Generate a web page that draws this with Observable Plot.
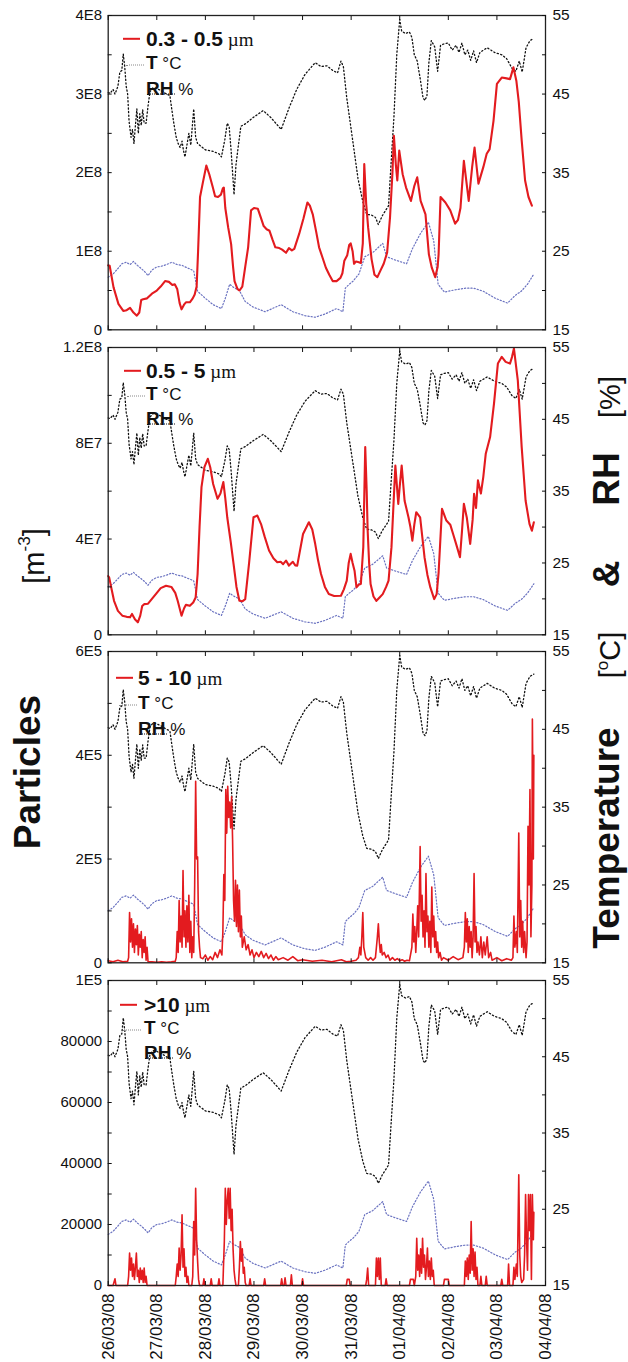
<!DOCTYPE html>
<html><head><meta charset="utf-8">
<script src="https://cdn.jsdelivr.net/npm/d3@7"></script>
<script src="https://cdn.jsdelivr.net/npm/@observablehq/plot@0.6"></script>
<style>
html,body{margin:0;padding:0;background:#fff;}
#chart{position:relative;width:628px;height:1362px;overflow:hidden;font-family:"Liberation Sans",Arial,sans-serif;color:#111;}
#chart svg{display:block;}
.abs{position:absolute;white-space:nowrap;line-height:1;}
.rot{position:absolute;white-space:nowrap;line-height:1;transform:translate(-50%,-50%) rotate(-90deg);}
</style></head><body><div id="chart"></div>
<script>
// ---------- data ----------
const dateLabels = ["26/03/08","27/03/08","28/03/08","29/03/08","30/03/08","31/03/08","01/04/08","02/04/08","03/04/08","04/04/08"];
const dayTicks = [0,1,2,3,4,5,6,7,8,9];
const rightTicks = [15,25,35,45,55];
const rightMinor = [15,20,25,30,35,40,45,50,55];

// upper dotted curve (RH %), [day since 26/03/08, value]
const rh = [[0.0,45.2],[0.04,45.1],[0.1,45.6],[0.14,45.0],[0.2,46.0],[0.24,47.8],[0.28,48.0],[0.31,50.1],[0.34,48.5],[0.37,46.0],[0.4,45.0],[0.43,41.5],[0.47,39.5],[0.5,40.5],[0.53,38.7],[0.56,41.0],[0.59,43.1],[0.62,40.0],[0.65,42.5],[0.68,41.0],[0.71,43.0],[0.74,41.3],[0.78,41.3],[0.82,43.5],[0.86,45.3],[0.92,45.8],[1.0,45.7],[1.1,45.4],[1.2,45.0],[1.27,44.8],[1.31,43.0],[1.35,41.3],[1.4,39.5],[1.44,38.7],[1.48,38.2],[1.52,39.0],[1.55,37.8],[1.58,37.0],[1.62,38.5],[1.66,40.0],[1.7,38.5],[1.76,43.1],[1.8,39.5],[1.84,38.7],[2.0,37.9],[2.16,37.7],[2.28,37.4],[2.33,37.0],[2.4,39.2],[2.45,41.3],[2.49,40.8],[2.53,37.8],[2.59,32.2],[2.63,36.0],[2.68,38.5],[2.73,40.9],[2.82,41.2],[2.98,42.0],[3.19,42.9],[3.35,42.0],[3.56,40.5],[3.72,43.2],[3.88,45.6],[4.05,47.5],[4.26,49.0],[4.38,48.5],[4.5,48.6],[4.62,48.0],[4.72,47.7],[4.79,49.2],[4.84,48.5],[4.91,44.5],[5.03,39.2],[5.14,34.3],[5.24,31.3],[5.32,29.7],[5.42,29.6],[5.5,29.3],[5.56,28.4],[5.64,29.5],[5.77,30.8],[5.82,36.0],[5.88,42.0],[5.94,50.1],[6.0,54.5],[6.04,53.0],[6.12,52.7],[6.2,52.9],[6.25,52.2],[6.3,50.0],[6.36,49.2],[6.42,47.0],[6.48,44.5],[6.52,44.2],[6.56,44.8],[6.6,49.0],[6.65,51.8],[6.72,51.0],[6.78,47.9],[6.84,51.2],[6.92,51.4],[7.0,51.5],[7.08,50.6],[7.16,51.2],[7.22,50.3],[7.28,51.5],[7.34,50.0],[7.4,50.6],[7.46,49.3],[7.52,50.5],[7.58,49.0],[7.65,50.3],[7.8,50.9],[7.95,50.3],[8.1,50.0],[8.2,49.5],[8.31,48.3],[8.39,47.9],[8.46,49.2],[8.52,47.8],[8.6,50.9],[8.68,51.8],[8.76,52.1]];

// lower dotted curve (T °C)
const temp = [[0.0,21.7],[0.1,22.1],[0.2,22.8],[0.28,23.4],[0.37,23.6],[0.45,23.3],[0.52,23.7],[0.6,23.2],[0.68,22.8],[0.75,22.4],[0.82,21.9],[0.9,22.6],[1.0,23.0],[1.1,23.1],[1.2,23.3],[1.31,23.6],[1.42,23.3],[1.52,23.2],[1.62,22.9],[1.7,22.7],[1.76,22.5],[1.84,19.9],[2.0,19.0],[2.16,18.2],[2.33,17.7],[2.41,19.0],[2.5,20.8],[2.58,20.4],[2.7,20.0],[2.82,18.6],[2.98,17.9],[3.23,17.3],[3.56,18.2],[3.8,17.3],[4.05,16.8],[4.26,16.6],[4.46,17.0],[4.7,17.7],[4.83,17.3],[4.88,20.3],[4.96,20.8],[5.04,21.2],[5.16,22.1],[5.28,24.3],[5.44,24.8],[5.65,26.0],[5.73,24.3],[5.9,23.9],[6.14,23.4],[6.26,25.3],[6.43,27.3],[6.59,28.7],[6.7,26.3],[6.79,20.8],[6.92,19.8],[7.15,20.1],[7.36,20.3],[7.52,20.3],[7.72,19.9],[7.97,19.0],[8.22,18.4],[8.38,19.4],[8.5,19.9],[8.63,20.8],[8.76,22.1]];

// 0.3 - 0.5 um, units 1E8 m-3
const pm03 = [[0.0,0.82],[0.03,0.815],[0.11,0.54],[0.21,0.33],[0.31,0.24],[0.38,0.25],[0.45,0.28],[0.52,0.22],[0.59,0.18],[0.64,0.22],[0.68,0.38],[0.72,0.39],[0.8,0.40],[0.9,0.46],[1.0,0.50],[1.08,0.55],[1.17,0.62],[1.25,0.61],[1.32,0.57],[1.37,0.58],[1.42,0.52],[1.47,0.34],[1.51,0.26],[1.56,0.32],[1.6,0.35],[1.68,0.35],[1.74,0.40],[1.78,0.45],[1.82,0.55],[1.85,1.0],[1.89,1.69],[1.95,1.88],[2.02,2.09],[2.08,1.98],[2.15,1.82],[2.2,1.70],[2.26,1.69],[2.32,1.72],[2.36,1.80],[2.38,1.81],[2.41,1.55],[2.47,1.30],[2.53,1.09],[2.57,0.80],[2.6,0.62],[2.66,0.52],[2.7,0.50],[2.76,0.55],[2.82,0.80],[2.88,1.05],[2.94,1.52],[3.0,1.55],[3.08,1.54],[3.14,1.43],[3.2,1.32],[3.26,1.28],[3.32,1.26],[3.38,1.15],[3.44,1.05],[3.52,1.04],[3.58,1.02],[3.66,0.98],[3.72,1.04],[3.78,1.01],[3.83,1.03],[3.93,1.22],[4.02,1.42],[4.1,1.62],[4.15,1.58],[4.21,1.47],[4.28,1.25],[4.34,1.05],[4.41,0.92],[4.48,0.79],[4.55,0.70],[4.62,0.62],[4.7,0.62],[4.78,0.66],[4.82,0.72],[4.86,0.88],[4.92,0.95],[4.96,1.08],[4.99,1.10],[5.03,1.0],[5.06,0.84],[5.1,0.87],[5.16,0.86],[5.2,0.85],[5.24,1.1],[5.27,2.11],[5.31,1.6],[5.35,1.30],[5.42,0.9],[5.48,0.70],[5.54,0.67],[5.6,0.75],[5.67,0.84],[5.74,0.98],[5.8,1.43],[5.85,2.0],[5.88,2.47],[5.92,2.1],[5.95,1.90],[5.99,2.28],[6.06,1.98],[6.13,1.81],[6.23,1.64],[6.3,1.83],[6.36,1.94],[6.43,1.64],[6.53,1.47],[6.6,0.96],[6.66,0.79],[6.73,0.67],[6.78,0.80],[6.8,0.96],[6.84,1.69],[6.94,1.62],[7.04,1.52],[7.14,1.35],[7.2,1.40],[7.25,1.55],[7.32,2.15],[7.42,1.64],[7.49,2.07],[7.54,2.32],[7.62,1.86],[7.72,2.07],[7.79,2.24],[7.85,2.30],[7.93,2.66],[8.0,3.13],[8.1,3.21],[8.2,3.20],[8.27,3.19],[8.34,3.34],[8.4,3.17],[8.45,2.9],[8.51,2.41],[8.58,1.90],[8.65,1.69],[8.72,1.58]];

// 0.5 - 5 um, units 1E7 m-3
const pm05 = [[0.0,2.45],[0.02,2.40],[0.07,1.9],[0.12,1.42],[0.2,1.0],[0.29,0.80],[0.38,0.75],[0.45,0.73],[0.49,0.87],[0.55,0.65],[0.61,0.52],[0.66,0.8],[0.7,1.2],[0.74,1.28],[0.82,1.30],[0.9,1.5],[0.98,1.70],[1.08,1.95],[1.19,2.05],[1.3,2.0],[1.38,1.75],[1.43,1.42],[1.51,0.80],[1.56,1.1],[1.6,1.25],[1.68,1.21],[1.75,1.35],[1.8,1.56],[1.84,2.54],[1.88,4.5],[1.92,6.17],[1.98,7.0],[2.05,7.35],[2.1,7.0],[2.16,6.3],[2.25,5.68],[2.31,5.9],[2.37,6.38],[2.41,5.7],[2.45,4.91],[2.52,3.9],[2.58,2.96],[2.64,2.0],[2.7,1.42],[2.76,1.40],[2.82,1.49],[2.9,3.0],[2.99,4.91],[3.07,4.98],[3.15,4.6],[3.22,4.1],[3.31,3.52],[3.4,3.2],[3.48,3.03],[3.55,3.05],[3.6,2.95],[3.66,3.1],[3.72,2.89],[3.8,3.05],[3.85,2.9],[3.89,2.89],[4.01,4.21],[4.13,4.70],[4.2,4.4],[4.26,3.80],[4.32,3.1],[4.38,2.54],[4.46,2.0],[4.54,1.70],[4.65,1.62],[4.79,1.63],[4.85,1.9],[4.91,2.26],[4.95,3.0],[4.99,3.38],[5.03,3.0],[5.07,2.68],[5.11,1.98],[5.16,2.1],[5.2,2.12],[5.25,3.66],[5.29,7.84],[5.32,6.0],[5.34,4.35],[5.37,3.0],[5.4,2.12],[5.46,1.6],[5.52,1.42],[5.58,1.55],[5.65,1.70],[5.72,2.0],[5.77,2.26],[5.83,3.66],[5.88,5.8],[5.91,7.07],[5.97,5.47],[6.0,6.2],[6.04,7.07],[6.1,5.6],[6.18,4.91],[6.22,4.5],[6.26,3.93],[6.3,4.6],[6.34,5.12],[6.42,4.9],[6.51,3.24],[6.57,2.5],[6.63,1.98],[6.71,1.49],[6.76,1.7],[6.8,2.6],[6.87,5.26],[6.96,4.77],[7.04,4.6],[7.1,4.2],[7.16,3.80],[7.24,3.24],[7.28,4.3],[7.32,5.47],[7.38,4.9],[7.45,3.80],[7.5,4.8],[7.53,5.89],[7.57,5.3],[7.61,6.45],[7.67,5.9],[7.72,6.6],[7.77,7.56],[7.86,8.26],[7.94,9.66],[8.02,11.33],[8.1,11.61],[8.18,11.40],[8.27,11.33],[8.31,11.6],[8.35,11.96],[8.43,10.63],[8.51,7.84],[8.59,5.61],[8.67,4.63],[8.72,4.35],[8.76,4.70]];

// 5 - 10 um, units 1E5 m-3
const pm5 = [[0,0.04],[0.1,0.02],[0.2,0.05],[0.3,0.02],[0.4,0.03],[0.42,0.1],[0.44,0.97],[0.46,0.4],[0.48,0.85],[0.5,0.3],[0.52,0.75],[0.54,0.2],[0.56,0.65],[0.58,0.35],[0.6,0.72],[0.62,0.15],[0.64,0.55],[0.66,0.3],[0.68,0.6],[0.7,0.1],[0.72,0.45],[0.74,0.2],[0.76,0.5],[0.78,0.05],[0.8,0.3],[0.82,0.02],[0.9,0.02],[1.0,0.01],[1.1,0.02],[1.2,0.01],[1.3,0.02],[1.38,0.03],[1.4,0.1],[1.42,0.6],[1.44,0.2],[1.46,1.2],[1.48,0.4],[1.5,0.9],[1.52,0.3],[1.54,1.78],[1.56,0.5],[1.58,1.0],[1.6,0.3],[1.62,1.1],[1.64,0.4],[1.66,1.3],[1.68,0.2],[1.7,0.8],[1.72,0.1],[1.74,0.5],[1.76,0.2],[1.78,1.5],[1.8,3.5],[1.82,2.0],[1.84,2.04],[1.86,0.6],[1.88,0.3],[1.9,0.1],[1.95,0.08],[2.0,0.15],[2.05,0.05],[2.1,0.12],[2.15,0.06],[2.2,0.2],[2.25,0.1],[2.3,0.25],[2.34,0.15],[2.36,0.6],[2.38,1.7],[2.4,1.2],[2.42,3.34],[2.44,2.5],[2.46,3.4],[2.48,2.8],[2.5,3.1],[2.52,2.6],[2.54,3.2],[2.56,2.37],[2.58,1.2],[2.6,0.8],[2.62,1.59],[2.64,0.7],[2.66,1.5],[2.68,0.6],[2.7,1.4],[2.72,0.5],[2.74,0.9],[2.76,0.3],[2.8,0.5],[2.84,0.25],[2.88,0.35],[2.92,0.15],[2.96,0.25],[3.0,0.1],[3.05,0.2],[3.1,0.12],[3.15,0.22],[3.2,0.1],[3.25,0.18],[3.3,0.08],[3.35,0.15],[3.4,0.05],[3.45,0.12],[3.5,0.06],[3.6,0.1],[3.7,0.05],[3.8,0.12],[3.9,0.04],[4.0,0.06],[4.2,0.03],[4.4,0.05],[4.6,0.02],[4.8,0.06],[4.9,0.02],[5.0,0.03],[5.1,0.05],[5.15,0.1],[5.18,0.3],[5.2,0.15],[5.22,0.5],[5.24,0.97],[5.26,0.3],[5.28,0.2],[5.3,0.1],[5.35,0.05],[5.4,0.1],[5.45,0.05],[5.5,0.1],[5.52,0.3],[5.54,0.5],[5.56,0.75],[5.58,0.4],[5.6,0.2],[5.62,0.35],[5.64,0.15],[5.68,0.2],[5.72,0.1],[5.76,0.15],[5.8,0.05],[5.85,0.1],[5.9,0.05],[5.95,0.08],[6.0,0.04],[6.05,0.06],[6.1,0.03],[6.15,0.05],[6.2,0.04],[6.25,0.3],[6.27,0.94],[6.29,0.4],[6.31,0.7],[6.33,0.2],[6.35,0.6],[6.37,1.1],[6.39,0.5],[6.42,2.24],[6.44,0.8],[6.46,1.3],[6.48,0.5],[6.5,1.0],[6.52,0.3],[6.54,1.72],[6.56,0.6],[6.58,0.9],[6.6,0.3],[6.62,0.8],[6.64,0.2],[6.66,1.46],[6.68,0.5],[6.7,0.9],[6.72,0.3],[6.74,0.6],[6.76,0.2],[6.78,0.4],[6.8,0.1],[6.83,0.2],[6.86,0.05],[6.9,0.1],[7.0,0.05],[7.1,0.12],[7.2,0.06],[7.3,0.1],[7.33,0.3],[7.35,0.97],[7.37,0.4],[7.39,0.85],[7.41,0.2],[7.43,0.7],[7.45,0.3],[7.47,0.6],[7.49,0.1],[7.51,0.5],[7.53,1.72],[7.55,0.4],[7.57,0.7],[7.59,0.2],[7.61,0.4],[7.64,0.15],[7.67,0.5],[7.7,0.1],[7.73,0.4],[7.76,0.15],[7.8,0.5],[7.83,0.1],[7.87,0.2],[7.9,0.05],[8.0,0.1],[8.1,0.04],[8.2,0.08],[8.3,0.05],[8.33,0.1],[8.35,0.9],[8.37,0.3],[8.4,0.6],[8.42,0.2],[8.45,2.5],[8.47,0.5],[8.49,1.2],[8.51,0.3],[8.53,0.8],[8.55,0.2],[8.57,0.6],[8.6,0.1],[8.62,0.4],[8.64,2.63],[8.66,1.5],[8.68,3.34],[8.7,0.5],[8.72,1.5],[8.73,4.7],[8.74,3.5],[8.75,2.0],[8.76,4.0]];

// > 10 um, units 1E4 m-3
const pm10 = [[0,0],[0.1,0],[0.14,0.22],[0.16,0],[0.4,0],[0.42,0.3],[0.44,1.06],[0.46,0.5],[0.48,0.9],[0.5,0.3],[0.52,0.7],[0.54,0.2],[0.56,0.6],[0.58,1.06],[0.6,0.3],[0.62,0.5],[0.64,0.1],[0.66,0.57],[0.68,0.2],[0.7,0.5],[0.72,0.1],[0.74,0.57],[0.76,0.1],[0.78,0.3],[0.8,0],[1.38,0],[1.4,0.3],[1.42,0.7],[1.44,0.3],[1.46,1.23],[1.48,0.5],[1.5,1.0],[1.52,2.32],[1.54,0.6],[1.56,1.2],[1.58,0.3],[1.6,0.6],[1.62,0.1],[1.64,0.3],[1.66,0],[1.72,0],[1.74,0.3],[1.76,2.1],[1.78,1.0],[1.8,3.19],[1.82,1.5],[1.84,0.8],[1.86,0.2],[1.88,0],[1.95,0],[1.97,0.22],[1.99,0],[2.1,0],[2.12,0.22],[2.14,0],[2.26,0],[2.28,0.22],[2.3,0],[2.36,0],[2.37,0.5],[2.39,1.44],[2.41,3.19],[2.43,2.0],[2.45,2.8],[2.47,3.19],[2.49,2.2],[2.51,3.19],[2.53,1.8],[2.55,2.5],[2.57,1.2],[2.59,0.5],[2.61,0.2],[2.63,0],[2.68,0],[2.7,0.6],[2.72,1.44],[2.74,0.8],[2.76,1.2],[2.78,0.4],[2.8,0.6],[2.82,0.1],[2.84,0],[2.9,0],[2.92,0.22],[2.94,0],[3.2,0],[3.22,0.22],[3.24,0],[3.55,0],[3.57,0.22],[3.59,0],[3.62,0],[3.64,0.25],[3.66,0],[3.75,0],[3.77,0.35],[3.79,0],[3.98,0],[4.0,0.22],[4.02,0],[4.9,0],[4.92,0.2],[4.96,0.2],[4.98,0],[5.3,0],[5.32,0.2],[5.34,0.57],[5.36,0],[5.5,0],[5.52,0.9],[5.54,0.3],[5.56,0.9],[5.58,0.2],[5.6,0.9],[5.62,0],[5.7,0],[5.72,0.22],[5.74,0],[6.2,0],[6.22,0.2],[6.28,0.2],[6.3,0],[6.33,0.3],[6.35,1.55],[6.37,0.5],[6.39,1.0],[6.41,0.3],[6.43,1.2],[6.45,0.4],[6.47,1.55],[6.49,0.6],[6.51,1.0],[6.53,0.2],[6.55,0.6],[6.57,1.23],[6.59,0.3],[6.61,0.8],[6.63,0.2],[6.65,0.9],[6.67,0.3],[6.69,0.5],[6.71,0],[6.9,0],[6.92,0.2],[7.0,0.2],[7.02,0],[7.33,0],[7.35,0.8],[7.37,0.3],[7.39,0.9],[7.41,0.2],[7.43,1.0],[7.45,0.4],[7.47,2.1],[7.49,0.5],[7.51,1.2],[7.53,0.3],[7.55,1.1],[7.57,0.2],[7.59,0.6],[7.61,0],[7.65,0],[7.67,0.3],[7.69,0],[7.76,0],[7.78,0.3],[7.8,0],[8.08,0],[8.1,0.2],[8.12,0],[8.22,0],[8.24,0.7],[8.26,0],[8.33,0],[8.35,0.6],[8.37,0.2],[8.4,0.7],[8.42,0.3],[8.45,3.63],[8.47,1.0],[8.49,0.3],[8.51,0.1],[8.55,0.2],[8.57,1.0],[8.59,2.98],[8.61,1.5],[8.63,0.5],[8.65,2.98],[8.67,1.8],[8.69,2.98],[8.71,0.2],[8.73,2.98],[8.75,1.5],[8.76,2.4]];

const seriesNames = ["0.3 - 0.5", "0.5 - 5", "5 - 10", ">10"];
const leftTicks = [[0,1,2,3,4],[0,4,8,12],[0,2,4,6],[0,2,4,6,8,10]];
const leftTickLabels = [["0","1E8","2E8","3E8","4E8"],["0","4E7","8E7","1.2E8"],["0","2E5","4E5","6E5"],["0","20000","40000","60000","80000","1E5"]];
const leftMinor = [[0.5,1.5,2.5,3.5],[2,6,10],[1,3,5],[1,3,5,7,9]];
const seriesData = [pm03, pm05, pm5, pm10];

// ---------- layout ----------
const layout = [
  {top:0,   height:338, mt:15, mb:8.7, sw:2.1, sx:123, tx:146, rows:[23,47,73]},
  {top:338, height:305, mt:9,  mb:8.7, sw:2.1, sx:124, tx:146, rows:[23,46,71]},
  {top:643, height:329, mt:8,  mb:9.7, sw:1.6, sx:116, tx:138, rows:[26,51,77]},
  {top:972, height:390, mt:8,  mb:77,  sw:1.6, sx:120, tx:144, rows:[24,47,72]}
];
const RED = "#e31b1f";
const chart = document.getElementById("chart");
const font = '"Liberation Sans", Arial, sans-serif';

seriesData.forEach((data, i) => {
  const L = layout[i];
  const ymax = leftTicks[i][leftTicks[i].length - 1];
  const f = v => (v - 15) / 40 * ymax;
  const ticks = leftTicks[i], labels = leftTickLabels[i];
  const last = i === seriesData.length - 1;
  const svg = Plot.plot({
    width: 628, height: L.height,
    marginLeft: 107.7, marginRight: 83, marginTop: L.mt, marginBottom: L.mb,
    x: {domain: [0, 9], axis: null, label: null},
    y: {domain: [0, ymax], axis: null, label: null},
    style: {fontFamily: font, fontSize: "15px", color: "#111", background: "transparent", overflow: "visible"},
    marks: [
      Plot.line(rh, {x: d => d[0], y: d => f(d[1]), stroke: "#111", strokeWidth: 1.3, strokeDasharray: "1.2,2.4"}),
      Plot.line(temp, {x: d => d[0], y: d => f(d[1]), stroke: "#6a72c0", strokeWidth: 1.2, strokeDasharray: "1.2,2"}),
      Plot.line(data, {x: d => d[0], y: d => d[1], stroke: RED, strokeWidth: L.sw, strokeLinejoin: "round"}),
      Plot.frame({stroke: "#222", strokeWidth: 1.3}),
      Plot.axisY(ticks, {anchor: "left", tickSize: 0, tickPadding: 6, fontSize: 15, tickFormat: d => labels[ticks.indexOf(d)], label: null}),
      Plot.axisY(ticks.concat(leftMinor[i]), {anchor: "left", tickSize: -4, fill: "none", label: null}),
      Plot.axisY(rightTicks.map(f), {anchor: "right", tickSize: 0, tickPadding: 7, fontSize: 15.5, tickFormat: d => String(Math.round(d / ymax * 40 + 15)), label: null}),
      Plot.axisY(rightMinor.map(f), {anchor: "right", tickSize: -4, fill: "none", label: null}),
      Plot.axisX(dayTicks, {anchor: "top", tickSize: -4, fill: "none", label: null}),
      Plot.axisX(dayTicks, {anchor: "bottom", tickSize: -4, fill: "none", label: null}),
      last ? Plot.axisX(dayTicks, {anchor: "bottom", tickSize: 0, tickPadding: 8, tickRotate: -90, fontSize: 17, tickFormat: d => dateLabels[d], label: null}) : null
    ]
  });
  chart.appendChild(svg);

  // legend
  const ft = L.top + L.mt;
  const addEl = (html, x, yc, css) => {
    const el = document.createElement("div");
    el.className = "abs";
    el.innerHTML = html;
    el.style.cssText += `left:${x}px;top:${yc}px;transform:translateY(-50%);` + (css || "");
    chart.appendChild(el);
    return el;
  };
  const y0 = ft + L.rows[0], y1 = ft + L.rows[1], y2 = ft + L.rows[2];
  addEl("", L.sx, y0 + 1, `width:17px;height:2.4px;background:${RED};`);
  addEl(`<span style="font-weight:bold;font-size:21px">${seriesNames[i]}</span><span style="font-family:'Liberation Serif',serif;font-size:19px"> &micro;m</span>`, L.tx, y0, "");
  addEl("", L.sx + 3, y1 + 3, "width:18px;height:0;border-top:1.3px dotted #888;");
  addEl(`<span style="font-weight:bold;font-size:19px">T</span><span style="font-size:17px"> &deg;C</span>`, L.tx, y1, "");
  addEl(`<span style="font-weight:bold;font-size:19px">RH</span><span style="font-size:17px"> %</span>`, L.tx, y2, "");
  addEl("", L.tx + 1, y2 + 6, "width:28px;height:0;border-top:1.6px dotted #111;");
});

// axis titles
const addRot = (html, cx, cy, css) => {
  const el = document.createElement("div");
  el.className = "rot";
  el.innerHTML = html;
  el.style.cssText += `left:${cx}px;top:${cy}px;` + css;
  chart.appendChild(el);
};
addRot("Particles", 27, 772, "font-weight:bold;font-size:37px;");
addRot("[m<sup style='font-size:17px;vertical-align:top;position:relative;top:-4px'>-3</sup>]", 34, 556, "font-size:29px;");
addRot("Temperature", 606, 838, "font-weight:bold;font-size:37px;");
addRot("[<sup style='font-size:17px;vertical-align:top;position:relative;top:-2px'>o</sup>C]", 610, 655, "font-size:29px;");
addRot("&amp;", 606, 574, "font-weight:bold;font-size:37px;");
addRot("RH", 606, 479, "font-weight:bold;font-size:37px;");
addRot("[%]", 610, 397, "font-size:29px;");
</script></body></html>
